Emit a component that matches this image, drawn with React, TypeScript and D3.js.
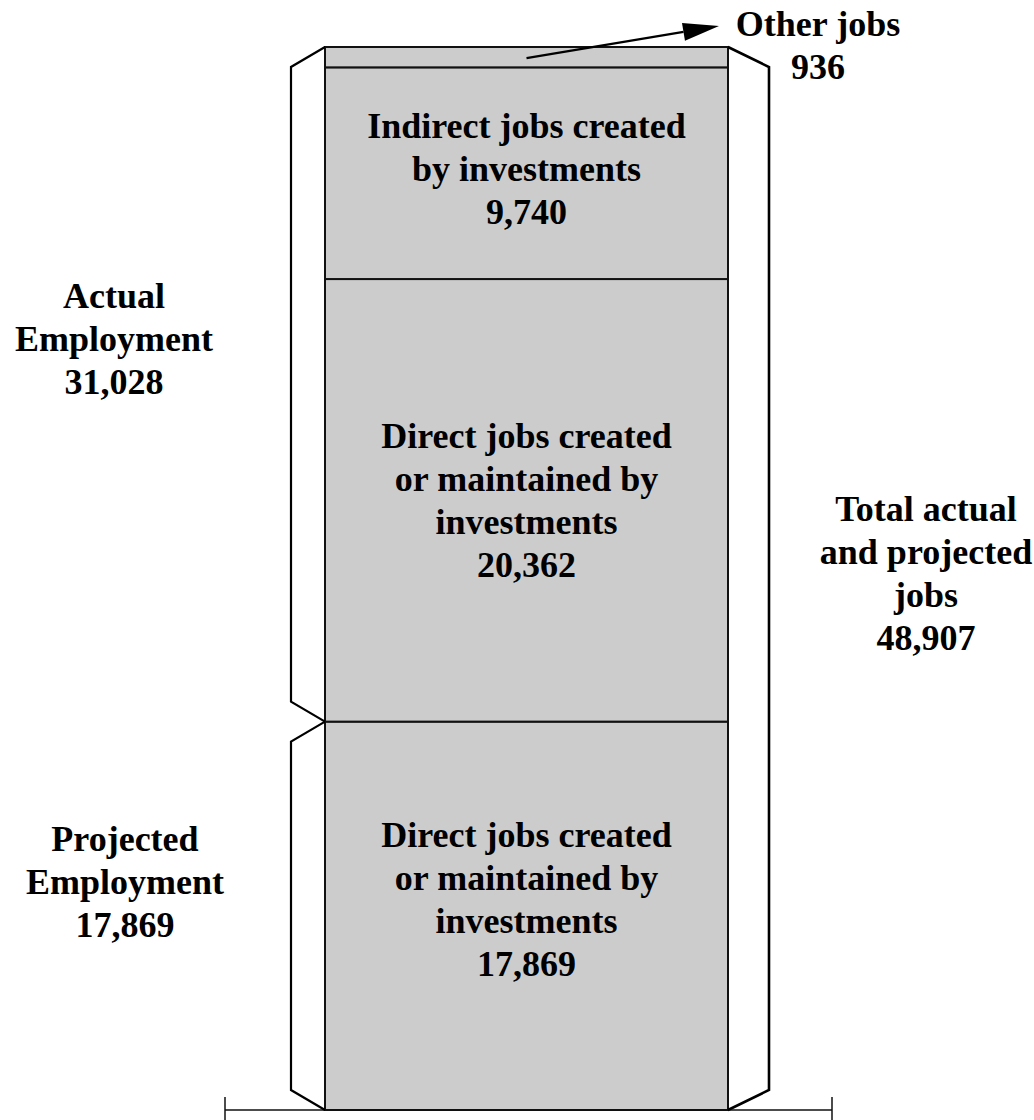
import React from 'react';
import * as d3 from 'd3';

// stacked from the bottom up
const segmentKeys = ['projected', 'direct', 'indirect', 'other'];
const segmentValues = [17869, 20362, 9740, 936];
const segmentLines = [
  ['Direct jobs created', 'or maintained by', 'investments', '17,869'],
  ['Direct jobs created', 'or maintained by', 'investments', '20,362'],
  ['Indirect jobs created', 'by investments', '9,740'],
  ['Other jobs', '936'],
];

const actualLines = ['Actual', 'Employment', '31,028'];
const projectedLines = ['Projected', 'Employment', '17,869'];
const totalLines = ['Total actual', 'and projected', 'jobs', '48,907'];

const W = 1034;
const H = 1120;
const FONT = '"Liberation Serif", "Times New Roman", serif';
const LINE_H = 43;

const App = () => {
  const total = d3.sum(segmentValues);
  const y = d3.scaleLinear().domain([0, total]).range([1110, 47]);
  const x = d3.scaleBand().domain(['jobs']).range([325, 728]).padding(0);

  const stacked = d3.cumsum(segmentValues);
  const segs = segmentKeys.map((k, i) => ({
    key: k,
    y0: i === 0 ? 0 : stacked[i - 1],
    y1: stacked[i],
    lines: segmentLines[i],
  }));

  const bx0 = x('jobs') as number;
  const bx1 = bx0 + x.bandwidth();
  const cx = (bx0 + bx1) / 2;

  // brackets
  const projected = segmentValues[0];
  const lx = bx0 - 34;
  const rx = bx1 + 41;
  const notch = 20;
  const leftUpper = d3.line()([
    [bx0, y(total)], [lx, y(total) + notch], [lx, y(projected) - notch], [bx0, y(projected)],
  ]);
  const leftLower = d3.line()([
    [bx0, y(projected)], [lx, y(projected) + notch], [lx, y(0) - notch], [bx0, y(0)],
  ]);
  const right = d3.line()([
    [bx1, y(total)], [rx, y(total) + notch], [rx, y(0) - notch], [bx1, y(0)],
  ]);

  const labelNudge = [-16, 0, -4];

  const textBlock = (lines: string[], tx: number, firstBase: number, key: string) => (
    <text key={key} x={tx} textAnchor="middle" fontFamily={FONT} fontWeight="bold" fontSize={36} fill="#000">
      {lines.map((l, i) => (
        <tspan key={i} x={tx} y={firstBase + i * LINE_H}>{l}</tspan>
      ))}
    </text>
  );

  const other = segs[3];
  const otherMid = y((other.y0 + other.y1) / 2);
  const arrowEnd: [number, number] = [719, 26];
  const arrowStart: [number, number] = [cx, otherMid + 1];
  const ang = Math.atan2(arrowEnd[1] - arrowStart[1], arrowEnd[0] - arrowStart[0]);
  const headLen = 36;
  const headW = 9;
  const hb: [number, number] = [arrowEnd[0] - headLen * Math.cos(ang), arrowEnd[1] - headLen * Math.sin(ang)];
  const head = [
    arrowEnd,
    [hb[0] + headW * Math.sin(ang), hb[1] - headW * Math.cos(ang)],
    [hb[0] - headW * Math.sin(ang), hb[1] + headW * Math.cos(ang)],
  ];

  return (
    <div style={{ position: 'absolute', left: 0, top: 0 }}>
      <svg width={W} height={H} style={{ display: 'block', background: '#fff' }}>
        {segs.map((s) => (
          <rect
            key={s.key}
            x={bx0}
            y={y(s.y1)}
            width={bx1 - bx0}
            height={y(s.y0) - y(s.y1)}
            fill="#cccccc"
            stroke="#111"
            strokeWidth={2}
          />
        ))}

        {/* base line with end ticks */}
        <line x1={225} x2={832} y1={y(0)} y2={y(0)} stroke="#111" strokeWidth={1.5} />
        <line x1={225} x2={225} y1={y(0) - 13} y2={H} stroke="#111" strokeWidth={1.5} />
        <line x1={832} x2={832} y1={y(0) - 13} y2={H} stroke="#111" strokeWidth={1.5} />

        <path d={leftUpper || ''} fill="none" stroke="#000" strokeWidth={2.2} />
        <path d={leftLower || ''} fill="none" stroke="#000" strokeWidth={2.2} />
        <path d={right || ''} fill="none" stroke="#000" strokeWidth={2.6} />

        {segs.slice(0, 3).map((s, i) => {
          const mid = y((s.y0 + s.y1) / 2);
          const n = s.lines.length;
          const first = mid - ((n - 1) * LINE_H) / 2 + 12 + labelNudge[i];
          return textBlock(s.lines, cx, first, s.key);
        })}

        {/* other jobs callout */}
        <line x1={arrowStart[0]} y1={arrowStart[1]} x2={hb[0]} y2={hb[1]} stroke="#000" strokeWidth={2.2} />
        <polygon points={head.map((p) => p.join(',')).join(' ')} fill="#000" />
        {textBlock(other.lines, 818, 36, 'other-label')}

        {textBlock(actualLines, 114, 308, 'actual')}
        {textBlock(projectedLines, 125, 851, 'proj')}
        {textBlock(totalLines, 926, 521, 'total')}
      </svg>
    </div>
  );
};

export default App;
